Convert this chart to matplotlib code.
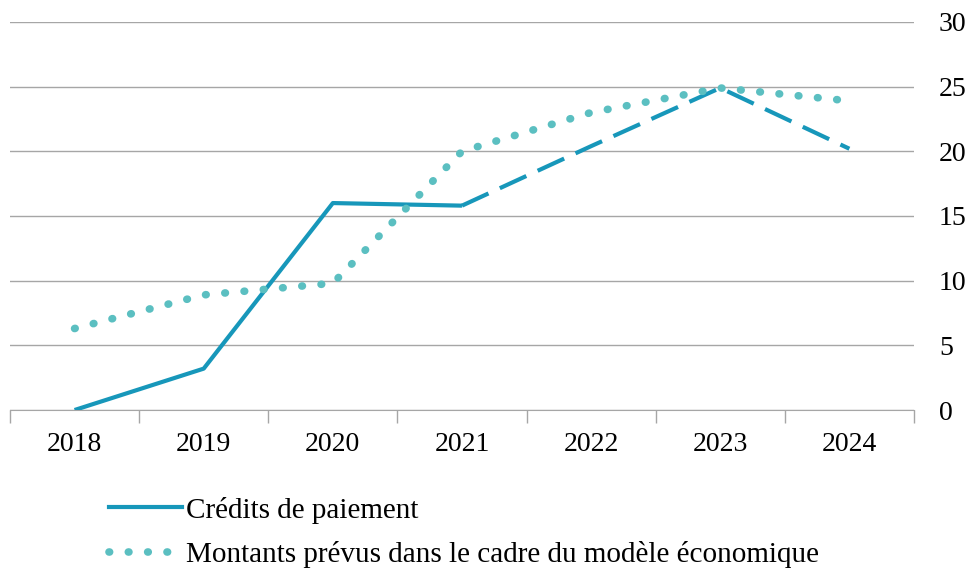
import matplotlib
matplotlib.use('Agg')
import matplotlib.pyplot as plt
import numpy as np
from matplotlib.lines import Line2D

years = ['2018', '2019', '2020', '2021', '2022', '2023', '2024']
credits_reels = [0.0, 3.2, 16.0, 15.8]            # 2018-2021, solid
credits_prevus = [15.8, 20.4, 24.9, 20.2]         # 2021-2024, dashed
montants_modele = [6.3, 8.9, 9.8, 20.0, 23.0, 24.9, 23.9]
yticks = [0, 5, 10, 15, 20, 25, 30]

col_cp = '#1797ba'
col_mod = '#5bbfc1'
grey = '#a6a6a6'
dots = (0, (0.08, 2.45))

plt.rcParams['font.family'] = ['Liberation Serif', 'DejaVu Serif']

fig = plt.figure(figsize=(9.73, 5.74), dpi=100)
ax = fig.add_axes([0.0103, 0.2857, 0.929, 0.676])

x = np.arange(len(years))
ax.plot(x[:4], credits_reels, color=col_cp, lw=3, solid_capstyle='butt', zorder=3)
ax.plot(x[3:], credits_prevus, color=col_cp, lw=3, linestyle=(0, (7, 3)), zorder=3)
ax.plot(x, montants_modele, color=col_mod, lw=5.5, linestyle=dots,
        dash_capstyle='round', zorder=4)

ax.set_xlim(-0.5, len(years) - 0.5)
ax.set_ylim(0, 30)
ax.set_yticks(yticks)
ax.yaxis.tick_right()
ax.tick_params(axis='y', length=0, labelsize=20, pad=18)
ax.grid(axis='y', color=grey, lw=1)
ax.set_axisbelow(True)

ax.set_xticks(x)
ax.set_xticklabels(years, fontsize=20)
ax.tick_params(axis='x', length=0, pad=16)
ax.set_xticks(np.arange(-0.5, len(years)), minor=True)
ax.tick_params(axis='x', which='minor', length=9, color=grey, width=1)

for s in ['top', 'left', 'right']:
    ax.spines[s].set_visible(False)
ax.spines['bottom'].set_color(grey)

handles = [Line2D([], [], color=col_cp, lw=3),
           Line2D([], [], color=col_mod, lw=5.5, linestyle=dots, dash_capstyle='round')]
fig.legend(handles, ['Crédits de paiement', 'Montants prévus dans le cadre du modèle économique'],
           loc='upper left', bbox_to_anchor=(0.1, 0.155), frameon=False, fontsize=21,
           handlelength=2.5, handletextpad=0.15, labelspacing=0.6, borderaxespad=0)

fig.savefig('out.png', dpi=100)
